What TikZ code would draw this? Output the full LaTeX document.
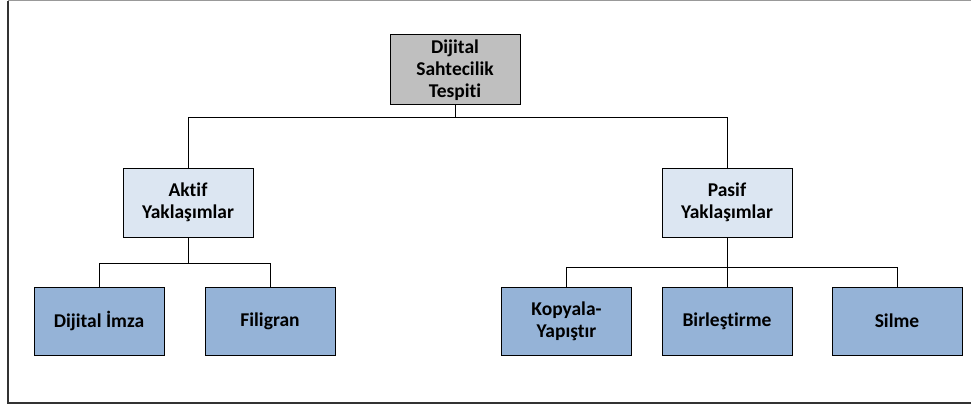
\documentclass[tikz,border=0pt]{standalone}
\usepackage{fontspec}
\setmainfont{Carlito}[Ligatures=NoCommon]
\usepackage{tikz}
\usetikzlibrary{positioning}

\begin{document}
\begin{tikzpicture}[x=1pt, y=-1pt,
        root/.style={draw, line width=1pt, fill=black!25, minimum width=130pt, minimum height=70pt, align=center, inner sep=1pt, font=\bfseries\fontsize{19.5}{22}\selectfont},
        group/.style={draw, line width=1pt, fill=groupblue, minimum width=130pt, minimum height=69pt, align=center, inner sep=1pt, font=\bfseries\fontsize{19.5}{22}\selectfont},
        leaf/.style={draw, line width=1pt, fill=leafblue, minimum width=130pt, minimum height=68pt, align=center, inner sep=1pt, font=\bfseries\fontsize{19.5}{22}\selectfont},
        link/.style={draw, line width=0.9pt}
    ]
        \definecolor{leafblue}{HTML}{95B3D7}
        \definecolor{groupblue}{HTML}{DCE6F2}
        \useasboundingbox (0,0) rectangle (971,409);
        % Cerceve
        \draw[black!40, line width=1.2pt] (8,0.8) -- (975,0.8);
        \draw[black!80, line width=1.5pt] (975,403) -- (8,403) -- (8,0.8);
        % Kok ve ana dallar
        \node[root] (R) at (455,70) {Dijital\\Sahtecilik\\Tespiti};
        \node[group] (A) at (188,202.5) {Aktif\\Yaklaşımlar};
        \node[group] (P) at (727,202.5) {Pasif\\Yaklaşımlar};
        % Alt kutular
        \node[leaf] (A1) at (99,321) {Dijital İmza};
        \node[leaf] (A2) at (270,321) {Filigran};
        \node[leaf] (P1) at (566.5,321) {Kopyala-\\Yapıştır};
        \node[leaf] (P2) at (727,321) {Birleştirme};
        \node[leaf] (P3) at (897,321) {Silme};
        % Baglantilar
        \draw[link] (R.south) -- ++(0,12) -| (A.north);
        \draw[link] (R.south) -- ++(0,12) -| (P.north);
        \draw[link] (A.south) -- ++(0,26) -| (A1.north);
        \draw[link] (A.south) -- ++(0,26) -| (A2.north);
        \draw[link] (P.south) -- ++(0,30) -| (P1.north);
        \draw[link] (P.south) -- (P2.north);
        \draw[link] (P.south) -- ++(0,30) -| (P3.north);
    \end{tikzpicture}
\end{document}
